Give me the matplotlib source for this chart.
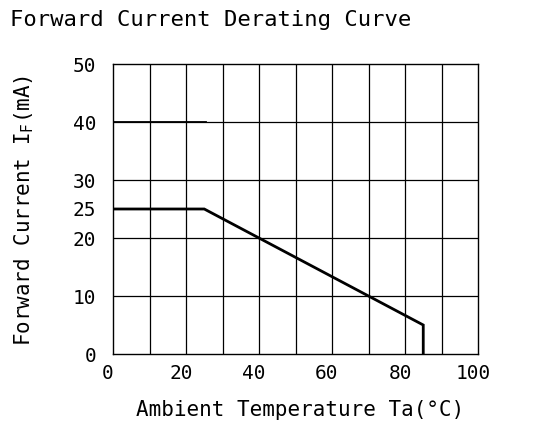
import matplotlib
matplotlib.use("Agg")
import matplotlib.pyplot as plt
import matplotlib.transforms as mtransforms

# derating curve
temp = [0, 25, 85, 85]
current = [25, 25, 5, 0]

# short marker line at 40 mA
mark_x = [0, 25.5]
mark_y = [40, 40]

xticks = [0, 20, 40, 60, 80, 100]
yticks = [0, 10, 20, 25, 30, 40, 50]

plt.rcParams['font.family'] = 'DejaVu Sans Mono'

fig = plt.figure(figsize=(5.46, 4.23), dpi=100)
ax = fig.add_axes([113 / 546, 69 / 423, 365 / 546, 290 / 423])

ax.set_xlim(0, 100)
ax.set_ylim(0, 50)

# grid every 10 in both directions
for gx in range(10, 100, 10):
    ax.axvline(gx, color='black', lw=0.9, zorder=1)
for gy in range(10, 50, 10):
    ax.axhline(gy, color='black', lw=0.9, zorder=1)

ax.plot(mark_x, mark_y, color='black', lw=1.3, zorder=2)
ax.plot(temp, current, color='black', lw=2.0, solid_joinstyle='miter', zorder=3)

for s in ax.spines.values():
    s.set_linewidth(1.0)
    s.set_color('black')

ax.set_xticks(xticks)
ax.set_yticks(yticks)
ax.tick_params(length=0, labelsize=14)
ax.tick_params(axis='x', pad=7)
ax.tick_params(axis='y', pad=12)
ax.set_xticklabels([str(v) for v in xticks])
ax.set_yticklabels([str(v) for v in yticks])

# x labels in the reference sit a little left of their grid lines
shift = mtransforms.ScaledTranslation(-5 / 100, 0, fig.dpi_scale_trans)
for lab in ax.get_xticklabels():
    lab.set_transform(lab.get_transform() + shift)

fig.text(10 / 546, 1 - 20 / 423, 'Forward Current Derating Curve',
         fontsize=16, ha='left', va='center')
fig.text(300 / 546, 1 - 410 / 423, 'Ambient Temperature Ta(°C)',
         fontsize=15, ha='center', va='center')
fig.text(24 / 546, 1 - 210 / 423, r'Forward Current I$_\mathregular{F}$(mA)',
         fontsize=15, ha='center', va='center', rotation=90)

fig.savefig('out.png', dpi=100, facecolor='white')
